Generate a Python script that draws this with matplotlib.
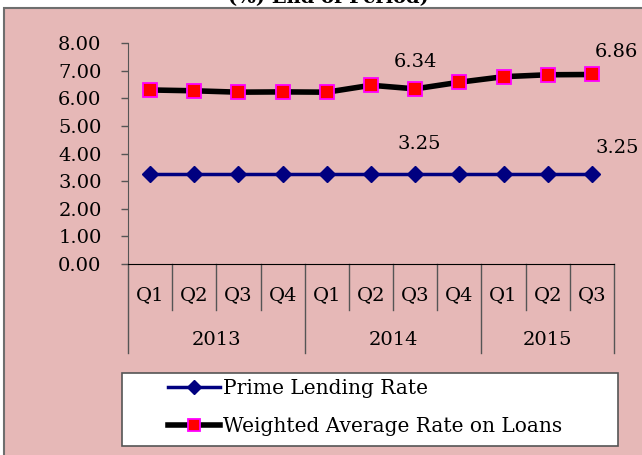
import numpy as np
import matplotlib
matplotlib.use("Agg")
import matplotlib.pyplot as plt
import matplotlib.transforms as mtransforms
from matplotlib.patches import Rectangle

plt.rcParams['font.family'] = ['DejaVu Serif']

quarters = ['Q1', 'Q2', 'Q3', 'Q4', 'Q1', 'Q2', 'Q3', 'Q4', 'Q1', 'Q2', 'Q3']
years = ['2013', '2014', '2015']
year_counts = [4, 4, 3]
prime = [3.25, 3.25, 3.25, 3.25, 3.25, 3.25, 3.25, 3.25, 3.25, 3.25, 3.25]
weighted = [6.30, 6.27, 6.22, 6.23, 6.22, 6.47, 6.34, 6.58, 6.78, 6.85, 6.86]
yticks = [0, 1, 2, 3, 4, 5, 6, 7, 8]

pink = '#E6B8B7'
fs = 14
fig = plt.figure(figsize=(6.42, 4.55), dpi=100)
fig.patch.set_facecolor('white')

# chart area border (runs off the right/bottom edge)
fig.patches.append(Rectangle((4/642, -0.05), 1.1, 1 - 8/455 + 0.05, transform=fig.transFigure,
                             facecolor=pink, edgecolor='#6e6e6e', linewidth=1.5, zorder=-5))
fig.text(328/642, 1 - 3/455, '(%) End of Period)', ha='center', va='baseline',
         fontsize=fs, fontweight='bold')

ax = fig.add_axes([128/642, 1 - 264/455, (614 - 128)/642, (264 - 43)/455])
ax.set_facecolor('none')
x = np.arange(len(quarters))

ax.plot(x, prime, color='#000080', lw=2.5, marker='D', ms=8, mfc='#000080',
        mec='#000080', label='Prime Lending Rate', zorder=3)
ax.plot(x, weighted, color='black', lw=4, marker='s', ms=9.5, mfc='red',
        mec='magenta', mew=1.3, label='Weighted Average Rate on Loans', zorder=3)

ax.set_xlim(-0.5, len(quarters) - 0.5)
ax.set_ylim(0, 8)
ax.set_yticks(yticks)
ax.set_yticklabels(['%.2f' % v for v in yticks], fontsize=fs)
ax.tick_params(axis='y', direction='out', length=5, width=1, color='#555555', pad=14)
ax.set_xticks([])
for s in ['top', 'right']:
    ax.spines[s].set_visible(False)
ax.spines['left'].set_color('#555555')
ax.spines['bottom'].set_color('black')

# data labels
ax.annotate('%.2f' % weighted[6], (x[6], weighted[6]), xytext=(0, 19), textcoords='offset points',
            ha='center', va='center', fontsize=fs)
ax.annotate('%.2f' % weighted[-1], (x[-1], weighted[-1]), xytext=(18, 16), textcoords='offset points',
            ha='center', va='center', fontsize=fs)
ax.annotate('%.2f' % prime[6], (x[6], prime[6]), xytext=(3, 22), textcoords='offset points',
            ha='center', va='center', fontsize=fs)
ax.annotate('%.2f' % prime[-1], (x[-1], prime[-1]), xytext=(18, 19), textcoords='offset points',
            ha='center', va='center', fontsize=fs)

# two-level category axis
trans = mtransforms.blended_transform_factory(ax.transData, ax.transAxes)
q_depth = -(310 - 264) / 221
y_depth = -(353 - 264) / 221
for i, q in enumerate(quarters):
    ax.text(i, -(295 - 264) / 221, q, transform=trans, ha='center', va='center', fontsize=fs)
bounds = np.concatenate([[0], np.cumsum(year_counts)]) - 0.5
for b in np.arange(len(quarters) + 1) - 0.5:
    deep = b in bounds
    ax.plot([b, b], [0, y_depth if deep else q_depth], transform=trans, color='#555555',
            lw=1, clip_on=False)
for j, yr in enumerate(years):
    ax.text((bounds[j] + bounds[j + 1]) / 2, -(340 - 264) / 221, yr, transform=trans,
            ha='center', va='center', fontsize=fs)

# legend: white box drawn separately, entries placed inside it
fig.patches.append(Rectangle((122/642, 1 - 446/455), (618 - 122)/642, (446 - 373)/455,
                             transform=fig.transFigure, facecolor='white', edgecolor='#555555',
                             linewidth=1.2, zorder=-4))
leg = ax.legend(loc='upper left', bbox_to_anchor=(168/642, 1 - 379/455),
                bbox_transform=fig.transFigure, fontsize=14.5, frameon=False,
                handlelength=2.6, handletextpad=0.15, borderaxespad=0, borderpad=0,
                labelspacing=0.95, markerscale=0.85)

fig.savefig('out.png', dpi=100)
